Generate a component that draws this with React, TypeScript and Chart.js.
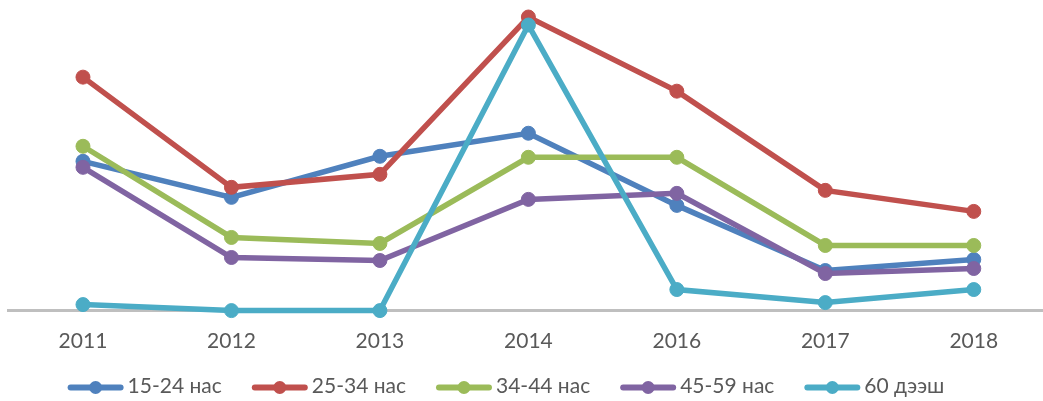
import React, { useEffect, useRef } from "react";
import { Chart, registerables } from "chart.js";

Chart.register(...registerables);

const categories = ["2011", "2012", "2013", "2014", "2016", "2017", "2018"];
const seriesNames = ["15-24 нас", "25-34 нас", "34-44 нас", "45-59 нас", "60 д\u044d\u044dш"];

const values1524 = [14.9, 11.3, 15.4, 17.7, 10.5, 4.0, 5.1];
const values2534 = [23.3, 12.3, 13.6, 29.3, 21.9, 12.0, 9.9];
const values3444 = [16.4, 7.3, 6.7, 15.3, 15.3, 6.5, 6.5];
const values4559 = [14.3, 5.3, 5.0, 11.1, 11.7, 3.7, 4.2];
const values60 = [0.6, 0, 0, 28.5, 2.1, 0.8, 2.1];

const seriesValues = [values1524, values2534, values3444, values4559, values60];
const seriesColors = ["#4F81BD", "#C0504D", "#9BBB59", "#8064A2", "#4BACC6"];

const FONT = 'Lato, "Noto Sans", sans-serif';
const TEXT_COLOR = "#595959";
const CANVAS_W = 1056;
const CANVAS_H = 401;

const legendPlugin = {
  id: "bottomLegend",
  afterDraw(chart: any) {
    const ctx = chart.ctx as CanvasRenderingContext2D;
    const ds = chart.data.datasets;
    const markW = 56;
    const textGap = 4;
    const itemGap = 30;
    const cy = 387.5;
    const center = 506;
    ctx.save();
    ctx.font = `21px ${FONT}`;
    const widths = ds.map((d: any) => ctx.measureText(d.label).width);
    const total =
      widths.reduce((a: number, w: number) => a + markW + textGap + w, 0) +
      itemGap * (ds.length - 1);
    let x = center - total / 2;
    ds.forEach((d: any, i: number) => {
      const color = d.borderColor;
      ctx.strokeStyle = color;
      ctx.lineWidth = 6;
      ctx.lineCap = "round";
      ctx.beginPath();
      ctx.moveTo(x + 3, cy);
      ctx.lineTo(x + markW - 3, cy);
      ctx.stroke();
      ctx.fillStyle = color;
      ctx.beginPath();
      ctx.arc(x + markW / 2, cy, 6.5, 0, Math.PI * 2);
      ctx.fill();
      ctx.fillStyle = TEXT_COLOR;
      ctx.textBaseline = "middle";
      ctx.textAlign = "left";
      ctx.fillText(d.label, x + markW + textGap, cy - 1);
      x += markW + textGap + widths[i] + itemGap;
    });
    ctx.restore();
  },
};

export default function App() {
  const ref = useRef<HTMLCanvasElement | null>(null);

  useEffect(() => {
    if (!ref.current) return;
    const chart = new Chart(ref.current, {
      type: "line",
      data: {
        labels: categories,
        datasets: seriesNames.map((name, i) => ({
          label: name,
          data: seriesValues[i],
          borderColor: seriesColors[i],
          backgroundColor: seriesColors[i],
          pointBackgroundColor: seriesColors[i],
          pointBorderColor: seriesColors[i],
          borderWidth: 5.5,
          pointRadius: 7,
          pointBorderWidth: 1,
          pointHoverRadius: 7,
          tension: 0,
          fill: false,
          clip: false as any,
          order: seriesNames.length - i,
        })),
      },
      options: {
        responsive: false,
        animation: false,
        events: [],
        layout: { padding: { left: 8.75, right: 0, top: 10, bottom: 28.4 } },
        plugins: {
          legend: { display: false },
          tooltip: { enabled: false },
          title: { display: false },
        },
        scales: {
          x: {
            type: "category",
            offset: true,
            grid: { display: false, drawTicks: false },
            border: { display: true, color: "#BFBFBF", width: 3 },
            ticks: {
              color: TEXT_COLOR,
              font: { family: FONT, size: 21, lineHeight: 1.2 },
              padding: 18.4,
              maxRotation: 0,
              autoSkip: false,
            },
          },
          y: {
            display: false,
            min: 0,
            max: 30,
          },
        },
      },
      plugins: [legendPlugin],
    });
    return () => chart.destroy();
  }, []);

  return (
    <div
      style={{
        position: "fixed",
        left: 0,
        top: 0,
        width: 1043,
        height: 401,
        overflow: "hidden",
        background: "#ffffff",
      }}
    >
      <canvas
        ref={ref}
        width={CANVAS_W}
        height={CANVAS_H}
        style={{ display: "block", width: CANVAS_W, height: CANVAS_H }}
      />
    </div>
  );
}
